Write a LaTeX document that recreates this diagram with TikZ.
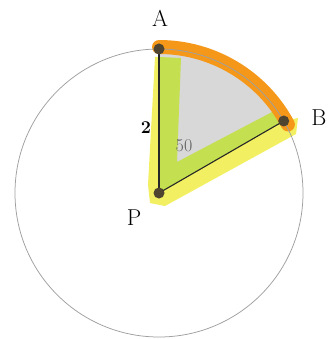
\documentclass[tikz,border=0pt]{standalone}
\usetikzlibrary{calc}
\definecolor{arcorange}{HTML}{F5981A}
\definecolor{hlyellow}{HTML}{F2F062}
\definecolor{hlgreen}{HTML}{C4DF50}
\definecolor{sectgrey}{HTML}{D8D8D8}
\definecolor{dotc}{HTML}{4E4430}
\begin{document}
\begin{tikzpicture}[x=1pt,y=1pt,
  dot/.style={circle,fill=dotc,inner sep=0pt,minimum size=11pt},
  lab/.style={font=\fontsize{23}{23}\selectfont},
  circ/.style={draw=gray!75,line width=0.75pt},
  side/.style={draw=black!85,line width=1.1pt},
  arcmark/.style={draw=arcorange,line width=14pt,line cap=round}]
\useasboundingbox (0,0) rectangle (330,-339);
\coordinate (P) at (159,-193);
\coordinate (A) at (159,-49);
\coordinate (B) at ($(P)+(30:144)$);
% grey sector
\fill[sectgrey] (P) -- (A) arc (90:30:144) -- cycle;
% yellow highlight (outside of the angle)
\fill[hlyellow] (155,-57) -- (159,-57) -- (P) -- (B) -- (298,-118) -- (296,-134)
  -- (165,-206) -- (150,-203) -- (148,-185) -- cycle;
% green highlight (inside of the angle)
\fill[hlgreen] (159,-57) -- (181,-58) -- (177,-162) -- (274,-111) -- (B) -- (P) -- cycle;
% orange arc
\draw[arcmark] ($(P)+(90:146)$) arc (90:28:146);
% sides
\draw[side] (P) -- (A);
\draw[side] (P) -- (B);
% circle
\draw[circ] (P) circle (144);
% points
\node[dot] (dA) at (A) {};
\node[dot] (dB) at (B) {};
\node[dot] (dP) at (P) {};
% labels
\node[lab] (lA) at (160,-18) {A};
\node[lab] (lB) at (319,-118) {B};
\node[lab] (lP) at (134,-218) {P};
\node[font=\fontsize{18}{18}\selectfont\bfseries] (l2) at (146,-128) {2};
\node[text=gray!75!black,font=\fontsize{18}{18}\selectfont] (l50) at (184,-146) {50};
\end{tikzpicture}
\end{document}
